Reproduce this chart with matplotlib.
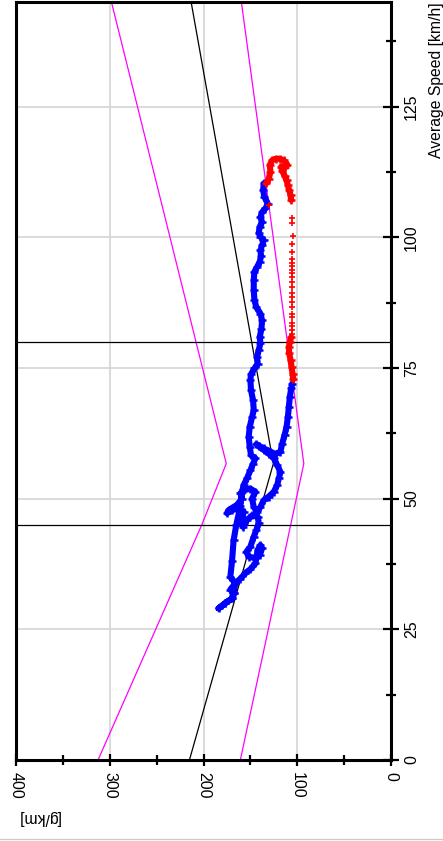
import numpy as np
import matplotlib
matplotlib.use("Agg")
import matplotlib.pyplot as plt
from matplotlib.lines import Line2D

plt.rcParams["font.family"] = ["Liberation Sans", "DejaVu Sans"]

# reference curves: (speed km/h, g/km)
black_speed = [0, 56.7, 145]
black_gkm = [215, 125.5, 213.2]
mag_hi_speed = [0, 45, 56.7, 145]
mag_hi_gkm = [312.5, 201.8, 175.7, 298.2]
mag_lo_speed = [0, 56.7, 145]
mag_lo_gkm = [160.7, 93.0, 159.6]
limit_speeds = [45, 80]

# blue trace, read along the path
blue_gkm = [135.7, 136.4, 135.0, 131.4, 133.9, 137.5, 139.3, 137.5, 140.0, 141.1,
            139.3, 135.7, 137.5, 139.3, 138.6, 140.0, 142.9, 145.7, 146.4, 146.4,
            145.7, 143.6, 139.3, 137.5, 138.2, 140.0, 139.3, 141.1, 142.9, 142.1,
            145.7, 149.3, 150.0, 149.3, 147.1, 146.4, 148.2, 150.7, 151.8, 150.7,
            149.3, 144.6, 147.1, 150.0, 153.6, 157.1, 158.9,
            160.7, 165.0, 167.9, 169.6, 171.4, 166.1, 167.9, 169.6, 176.8, 183.9,
            176.8, 169.6, 167.9, 171.4, 166.1, 160.7, 155.4, 150.0, 144.6, 143.6,
            142.1, 139.3, 137.5, 140.0, 144.6, 151.8, 154.3, 150.0, 146.4, 143.6,
            141.1, 142.1, 148.2, 153.6, 157.9, 158.9, 157.1, 162.5, 169.6, 175.0,
            173.2, 164.3, 158.9, 160.7, 157.1, 150.0, 144.6, 148.2, 146.4, 142.9,
            139.3, 135.7, 130.4, 125.0, 121.4, 119.6, 117.9, 121.4, 125.0, 130.4,
            135.7, 141.1, 143.6, 135.7, 128.6, 123.2, 117.9, 116.1, 113.6, 111.4,
            110.0, 108.9, 107.9, 106.4, 105.4]
blue_speed = [110.3, 109.0, 107.7, 106.4, 105.5, 104.8, 103.8, 102.9, 102.0, 100.8,
              100.1, 99.4, 98.5, 97.5, 96.4, 95.3, 94.3, 93.4, 91.8, 89.9,
              88.0, 86.6, 85.4, 84.1, 82.5, 80.9, 79.7, 78.4, 77.1, 75.8,
              74.9, 73.8, 72.7, 70.7, 68.8, 66.9, 65.6, 63.7, 61.8, 59.9,
              58.3, 57.7, 56.7, 55.4, 53.9, 52.6, 51.3,
              48.5, 45.0, 42.0, 38.0, 35.0, 33.8, 31.9, 30.9, 30.0, 29.0,
              30.0, 30.9, 31.9, 32.6, 33.8, 34.7, 35.7, 36.5, 37.6, 38.8,
              40.2, 41.1, 40.5, 39.2, 38.6, 38.9, 39.8, 40.8, 42.7, 44.0,
              45.3, 46.5, 46.8, 45.9, 44.6, 45.9, 47.5, 48.1, 47.8, 47.2,
              47.8, 48.8, 50.0, 51.0, 51.6, 51.9, 51.3, 50.0, 48.4, 47.5,
              48.4, 49.7, 50.4, 51.3, 52.6, 53.9, 55.1, 56.4, 57.7, 58.6,
              59.3, 60.0, 60.4, 59.6, 59.0, 58.5, 59.0, 60.5, 62.1, 63.7,
              65.6, 67.6, 69.5, 71.1, 72.0]

# red trace, dense parts
red_low_gkm = [104.3, 105.0, 106.1, 107.1, 108.6, 108.9, 107.9, 106.4]
red_low_speed = [72.8, 73.9, 75.2, 76.5, 77.8, 79.0, 80.0, 80.9]
red_top_gkm = [132.9, 130.4, 128.6, 129.3, 126.8, 123.2, 118.6, 114.3, 110.7, 113.6,
               117.1, 116.1, 113.6, 111.4, 110.0, 108.6, 107.1, 106.4]
red_top_speed = [110.3, 111.2, 112.5, 113.8, 114.7, 115.0, 115.0, 114.7, 113.9, 113.4,
                 113.5, 112.7, 111.8, 110.9, 109.9, 109.0, 108.0, 107.1]
# red trace, sparse points
red_pts_gkm = [105.4, 105.4, 105.0, 105.4, 105.4, 105.4, 105.8, 105.4, 105.8, 105.4,
               105.4, 105.8, 105.4, 105.4, 105.8, 105.4, 105.4, 105.8, 105.4, 105.4,
               105.8, 105.4, 105.4, 130.4]
red_pts_speed = [103.6, 102.7, 100.2, 98.7, 97.2, 95.9, 95.1, 94.5, 93.8, 93.2,
                 92.4, 91.5, 90.4, 89.4, 88.5, 87.6, 86.7, 85.4, 84.8, 83.6,
                 83.0, 82.2, 81.5, 106.1]

W, H = 443, 841
fig = plt.figure(figsize=(W / 100, H / 100), dpi=100)
ax = fig.add_axes([16 / W, 81 / H, 375 / W, 758 / H])

grid_c = "#d4d4d4"
for g in [100, 200, 300]:
    ax.axvline(g, color=grid_c, lw=1.2, zorder=0)
for s in [25, 50, 75, 100, 125]:
    ax.axhline(s, color=grid_c, lw=1.2, zorder=0)

ax.plot(black_gkm, black_speed, color="black", lw=0.9, zorder=2)
ax.plot(mag_hi_gkm, mag_hi_speed, color="#ff00ff", lw=0.9, zorder=2)
ax.plot(mag_lo_gkm, mag_lo_speed, color="#ff00ff", lw=0.9, zorder=2)
for s in limit_speeds:
    ax.axhline(s, color="black", lw=0.9, zorder=2)

trace = dict(lw=4.4, marker="+", ms=6, mew=1.8,
             solid_joinstyle="round", solid_capstyle="round")
ax.plot(blue_gkm, blue_speed, color="#0000ff", zorder=3, **trace)
ax.plot(red_low_gkm, red_low_speed, color="#ff0000", zorder=4, **trace)
ax.plot(red_top_gkm, red_top_speed, color="#ff0000", zorder=4, **trace)
ax.plot(red_pts_gkm, red_pts_speed, "+", color="#ff0000", ms=4, mew=1.2, zorder=4)

ax.set_xlim(400, 0)
ax.set_ylim(0, 145)

for sp in ax.spines.values():
    sp.set_linewidth(2.2)

ax.set_xticks([0, 100, 200, 300, 400])
ax.set_xticks([50, 150, 250, 350], minor=True)
ax.set_yticks([0, 25, 50, 75, 100, 125])
ax.set_yticks([12.5, 37.5, 62.5, 87.5, 112.5, 137.5], minor=True)
ax.yaxis.tick_right()
ax.tick_params(axis="x", which="major", direction="inout", length=9, width=1.6,
               labelsize=11.5, pad=4, labelrotation=-90)
ax.tick_params(axis="x", which="minor", direction="inout", length=7, width=1.6)
ax.tick_params(axis="y", which="major", direction="inout", length=11, width=1.6,
               labelsize=11.5, pad=4, left=False, right=True)
ax.tick_params(axis="y", which="minor", direction="inout", length=7, width=1.6,
               left=False, right=True)
for lab in ax.get_yticklabels():
    lab.set_rotation(90)
    lab.set_va("center")

fig.text(436 / W, 1 - 80 / H, "Average Speed [km/h]", rotation=90,
         ha="center", va="center", fontsize=11.3)
fig.text(38 / W, 1 - 818 / H, "[g/km]", rotation=180,
         ha="center", va="center", fontsize=11.3)
fig.add_artist(Line2D([0, 1], [2 / H, 2 / H], transform=fig.transFigure,
                      color="#cccccc", lw=1))

fig.savefig("out.png", dpi=100)
